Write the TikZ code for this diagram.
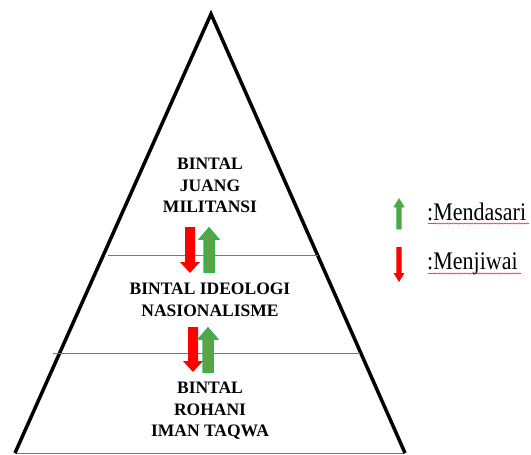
\documentclass[tikz,border=0pt]{standalone}
\usepackage{fontspec}
\setmainfont{Liberation Serif}
\usetikzlibrary{decorations.pathmorphing}

\definecolor{arrred}{RGB}{255,0,0}
\definecolor{arrgreen}{RGB}{92,162,70}
\definecolor{arrgreenline}{RGB}{44,182,76}
\definecolor{levelgray}{RGB}{120,120,120}

% block arrow: style, x, tail y, tip y, half shaft, half head, head length
\newcommand{\blockarrow}[7]{%
  \pgfmathsetmacro\arrhb{#4-sign(#4-#3)*#7}
  \draw[#1] (#2-#5,#3) -- (#2-#5,\arrhb) -- (#2-#6,\arrhb) -- (#2,#4)
    -- (#2+#6,\arrhb) -- (#2+#5,\arrhb) -- (#2+#5,#3) -- cycle;}

\begin{document}
\begin{tikzpicture}[x=1pt,y=-1pt,
    level/.style={anchor=north,inner sep=0pt,align=center,
      font=\fontsize{17.5}{21.5}\selectfont\bfseries},
    legend/.style={anchor=base west,inner sep=0pt,yscale=1.15,
      font=\fontsize{22}{24}\selectfont},
    redarr/.style={fill=arrred,draw=none},
    greenarr/.style={fill=arrgreen,draw=arrgreenline,line width=1.5pt},
    squiggle/.style={line width=0.5pt,decorate,
      decoration={snake,amplitude=0.5pt,segment length=2.5pt}}]
    \useasboundingbox (0,0) rectangle (531,455);
    % pyramid
    \coordinate (top) at (211,14);
    \coordinate (bl) at (15,453);
    \coordinate (br) at (405,453);
    \draw[levelgray,line width=0.8pt] (bl) -- (br);
    \draw[line width=3.5pt,line join=miter] (bl) -- (top) -- (br);
    \coordinate (l1a) at (108,255);
    \coordinate (l1b) at (318,255);
    \coordinate (l2a) at (53,353);
    \coordinate (l2b) at (360,353);
    \draw[levelgray,line width=0.8pt] (l1a) -- (l1b);
    \draw[levelgray,line width=0.8pt] (l2a) -- (l2b);
    % levels
    \node[level] (juang) at (210,158) {BINTAL\\JUANG\\MILITANSI};
    \node[level] (ideologi) at (210,283) {BINTAL IDEOLOGI\\NASIONALISME};
    \node[level] (rohani) at (210,382) {BINTAL\\ROHANI\\IMAN TAQWA};
    % arrows between levels
    \blockarrow{redarr}{190}{227}{273}{5}{10}{11}
    \blockarrow{greenarr}{209}{272}{228}{5}{9.5}{11}
    \blockarrow{redarr}{193}{327}{372}{5}{10}{11}
    \blockarrow{greenarr}{208}{372}{328}{5}{9.5}{11}
    % legend
    \blockarrow{fill=arrgreen,draw=arrgreenline,line width=0.8pt}{399}{229}{199}{2.2}{5}{8}
    \blockarrow{redarr}{399}{247}{282}{2.6}{5.5}{9}
    \node[legend] (mendasari) at (427,220) {:Mendasari};
    \node[legend] (menjiwai) at (427,269) {:Menjiwai};
    \draw[squiggle,red] (434,223.5) -- (529,223.5);
    \draw[squiggle,red] (434,273.5) -- (521,273.5);
    \draw[line width=0.7pt,blue!60] (428,223.5) -- (435,223.5);
    \draw[line width=0.7pt,blue!60] (428,273.5) -- (435,273.5);
\end{tikzpicture}
\end{document}
